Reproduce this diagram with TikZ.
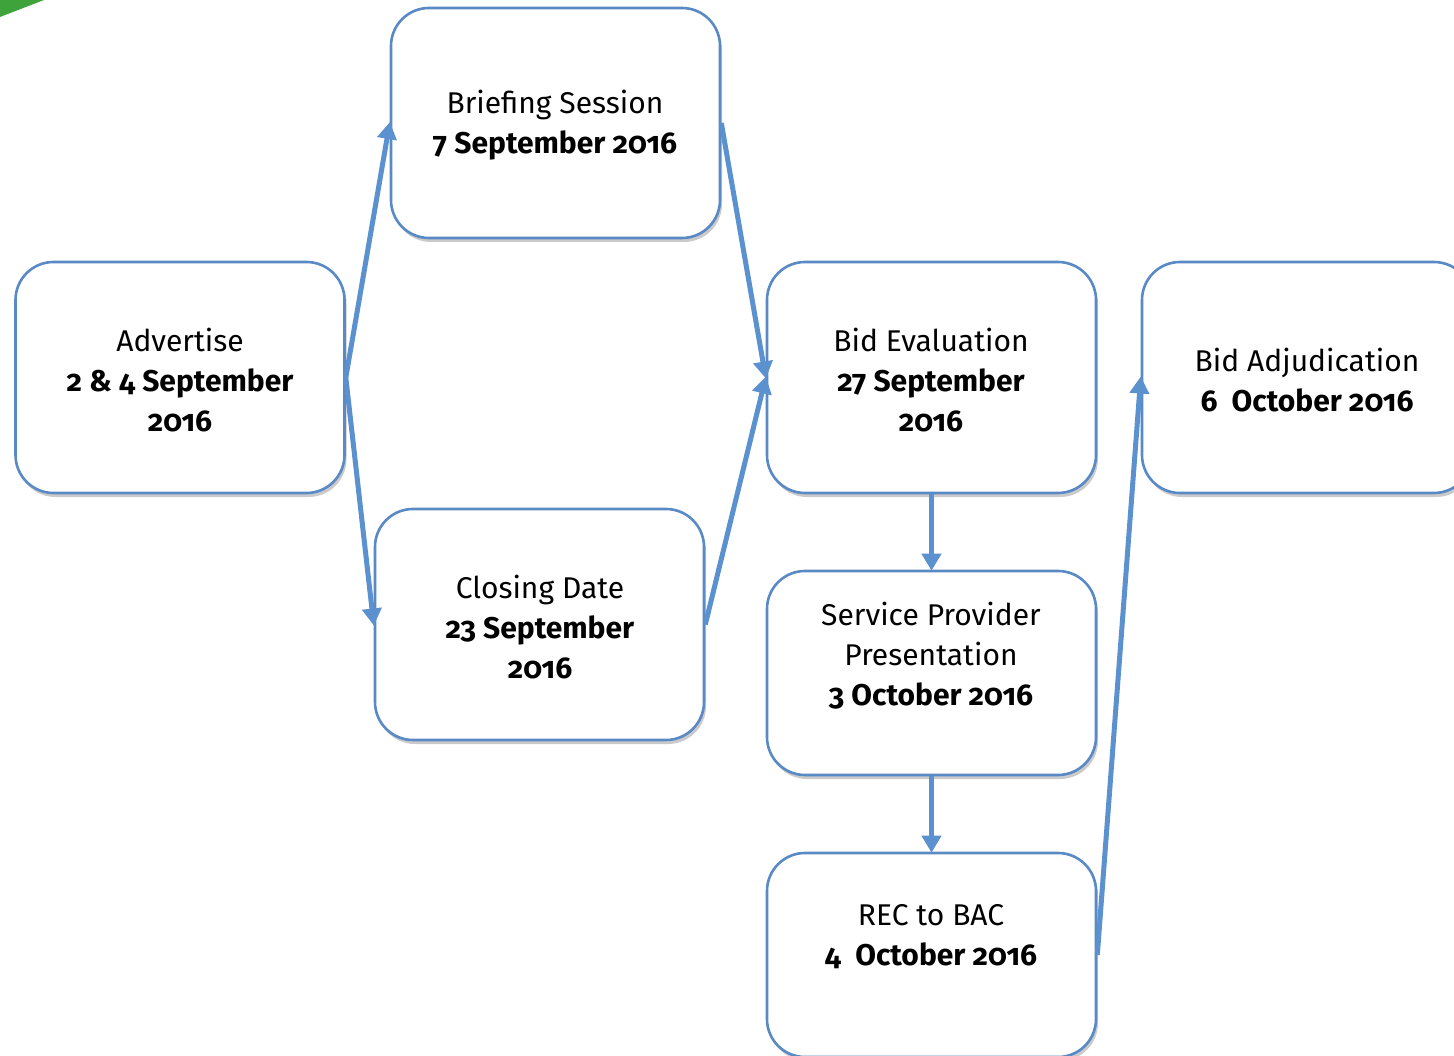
\documentclass[tikz,border=0pt]{standalone}
\usepackage{fontspec}
\setmainfont{Fira Sans}[Numbers=OldStyle]
\usetikzlibrary{arrows.meta,shadows}
\definecolor{boxline}{RGB}{90,138,198}
\definecolor{arrowcol}{RGB}{91,145,206}
\definecolor{leafgreen}{RGB}{61,163,58}
\tikzset{
  stagebox/.style={draw=boxline, line width=2.6pt, rounded corners=38pt, fill=white,
    inner sep=0pt, minimum width=329pt,
    drop shadow={shadow xshift=2pt, shadow yshift=-4pt, opacity=0.35, fill=black!60}},
  stagetext/.style={align=center, font=\fontsize{30}{40}\selectfont, inner sep=0pt},
  flow/.style={draw=arrowcol, line width=5pt, -{Triangle[length=17pt,width=19pt]}, shorten >=-1pt}
}
\begin{document}
\begin{tikzpicture}[x=1pt,y=-1pt]
\useasboundingbox (0,0) rectangle (1454,1056);
\clip (0,0) rectangle (1454,1056);
\fill[leafgreen] (0,0) -- (44,0) -- (0,17) -- cycle;

\node[stagebox, minimum height=231pt] (adv) at (180,377.5) {};
\node[stagebox, minimum height=230pt] (brief) at (555.5,123) {};
\node[stagebox, minimum height=231pt] (close) at (539.5,624.5) {};
\node[stagebox, minimum height=231pt] (eval) at (931.5,377.5) {};
\node[stagebox, minimum height=231pt, minimum width=330pt] (adj) at (1307,377.5) {};
\node[stagebox, minimum height=204pt] (serv) at (931.5,673) {};
\node[stagebox, minimum height=204pt] (rec) at (931.5,955) {};

\node[stagetext] (advt) at (180,380) {Advertise\\\textbf{2 \& 4 September}\\\textbf{2016}};
\node[stagetext] (brieft) at (555,125) {Briefing Session\\\textbf{7 September 2016}};
\node[stagetext] (closet) at (540,627) {Closing Date\\\textbf{23 September}\\\textbf{2016}};
\node[stagetext] (evalt) at (931,380) {Bid Evaluation\\\textbf{27 September}\\\textbf{2016}};
\node[stagetext] (adjt) at (1307,380) {Bid Adjudication\\\textbf{6\ \ October 2016}};
\node[stagetext] (servt) at (931,656) {Service Provider\\Presentation\\\textbf{3 October 2016}};
\node[stagetext] (rect) at (931,936.5) {REC to BAC\\\textbf{4\ \ October 2016}};

\draw[flow] (adv.east) -- (brief.west);
\draw[flow] (adv.east) -- (close.west);
\draw[flow] (brief.east) -- (eval.west);
\draw[flow] (close.east) -- (eval.west);
\draw[flow] (eval.south) -- (serv.north);
\draw[flow] (serv.south) -- (rec.north);
\draw[flow] (rec.east) -- (adj.west);
\end{tikzpicture}
\end{document}
